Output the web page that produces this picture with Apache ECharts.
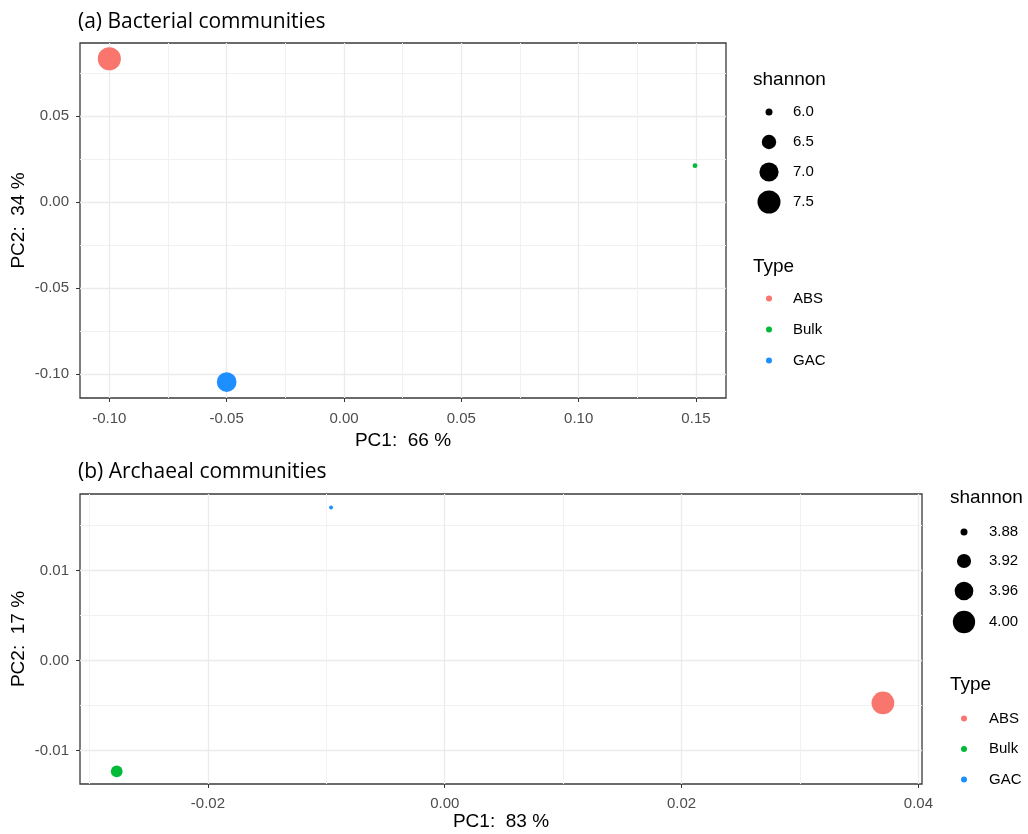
<!DOCTYPE html>
<html>
<head>
<meta charset="utf-8">
<title>PCoA - bacterial and archaeal communities</title>
<script src="https://cdn.jsdelivr.net/npm/echarts@6.0.0/dist/echarts.min.js"></script>
<style>
  html, body { margin: 0; padding: 0; background: #fff; }
  #chart { width: 1028px; height: 834px; }
</style>
</head>
<body>
<div id="chart"></div>
<script>
const types = ['ABS', 'Bulk', 'GAC'];
const typeColors = ['#F8766D', '#00BA38', '#1E8FFF'];

// (a) bacterial communities
const bactPC1 = [-0.100, 0.1496, -0.050];
const bactPC2 = [0.0835, 0.0213, -0.1047];
const bactShannon = [7.52, 5.92, 7.06];
const bactXTicks = [-0.10, -0.05, 0.00, 0.05, 0.10, 0.15];
const bactYTicks = [-0.10, -0.05, 0.00, 0.05];
const bactXMinor = [-0.075, -0.025, 0.025, 0.075, 0.125];
const bactYMinor = [-0.075, -0.025, 0.025, 0.075];
const bactXRange = [-0.1125, 0.1628];
const bactYRange = [-0.114, 0.0927];
const bactShannonBreaks = [6.0, 6.5, 7.0, 7.5];
const bactShannonLabels = ['6.0', '6.5', '7.0', '7.5'];

// (b) archaeal communities
const archPC1 = [0.0370, -0.0277, -0.0096];
const archPC2 = [-0.0047, -0.0123, 0.0170];
const archShannon = [4.005, 3.904, 3.871];
const archXTicks = [-0.02, 0.00, 0.02, 0.04];
const archYTicks = [-0.01, 0.00, 0.01];
const archXMinor = [-0.03, -0.01, 0.01, 0.03];
const archYMinor = [-0.005, 0.005, 0.015];
const archXRange = [-0.0308, 0.0403];
const archYRange = [-0.0137, 0.0185];
const archShannonBreaks = [3.88, 3.92, 3.96, 4.00];
const archShannonLabels = ['3.88', '3.92', '3.96', '4.00'];

const FONT = '"Liberation Sans", Arial, sans-serif';
const TITLE_FONT = '"Open Sans", sans-serif';

// point diameter from shannon (area ~ linear, like ggplot scale_size)
function bactSize(s) { return Math.sqrt(Math.max(49 + 320 * (s - 6.0), 9)); }
function archSize(s) { return Math.sqrt(Math.max(49 + 3740 * (s - 3.88), 9)); }

function fmt(v) { return v.toFixed(2); }

// minor grid lines only
function minorAxis(dim, gridIndex, range, minor) {
  return {
    type: 'value', gridIndex: gridIndex,
    position: dim === 'x' ? 'bottom' : 'left',
    min: range[0], max: range[1],
    axisLine: { show: false, onZero: false },
    axisTick: { show: false, customValues: minor },
    axisLabel: { show: false },
    splitLine: { show: true, lineStyle: { color: '#F1F1F1', width: 1 } }
  };
}

// major grid, ticks, labels and title
function majorAxis(dim, gridIndex, range, ticks, name, nameGap, labelMargin) {
  return {
    type: 'value', gridIndex: gridIndex,
    position: dim === 'x' ? 'bottom' : 'left',
    min: range[0], max: range[1],
    name: name, nameLocation: 'middle', nameGap: nameGap, nameMoveOverlap: false,
    nameTextStyle: { fontFamily: FONT, fontSize: 19, color: '#000' },
    axisLine: { show: false, onZero: false },
    axisTick: { show: true, length: 4, customValues: ticks, lineStyle: { color: '#333', width: 1 } },
    axisLabel: {
      customValues: ticks, formatter: fmt,
      fontFamily: FONT, fontSize: 15, color: '#4D4D4D',
      margin: labelMargin
    },
    splitLine: { show: true, lineStyle: { color: '#EBEBEB', width: 1.3 } }
  };
}

function panelSeries(pc1, pc2, shannon, xIdx, yIdx, sizeFn) {
  return types.map((t, i) => ({
    name: t,
    type: 'scatter',
    xAxisIndex: xIdx, yAxisIndex: yIdx,
    data: [[pc1[i], pc2[i], shannon[i]]],
    symbol: 'circle',
    symbolSize: v => sizeFn(v[2]),
    itemStyle: { color: typeColors[i], opacity: 1 },
    emphasis: { disabled: true }
  }));
}

function sizeLegend(x0, yTitle, ys, breaks, labels, sizeFn, symX, labelX) {
  let els = [{
    type: 'text', x: x0, y: yTitle,
    style: { text: 'shannon', font: '19px ' + FONT, fill: '#000', verticalAlign: 'middle' }
  }];
  breaks.forEach((b, i) => {
    els.push({
      type: 'circle',
      shape: { cx: symX, cy: ys[i], r: sizeFn(b) / 2 },
      style: { fill: '#000' }
    });
    els.push({
      type: 'text', x: labelX, y: ys[i],
      style: { text: labels[i], font: '15px ' + FONT, fill: '#000', verticalAlign: 'middle' }
    });
  });
  return els;
}

let myChart = echarts.init(document.getElementById('chart'), null, { renderer: 'canvas' });

let option = {
  animation: false,
  backgroundColor: '#fff',
  grid: [
    { left: 80, top: 43, width: 646, height: 355, outerBoundsMode: 'none', containLabel: false,
      show: true, borderColor: '#3a3a3a', borderWidth: 1.3, backgroundColor: 'transparent' },
    { left: 80, top: 494, width: 842, height: 290, outerBoundsMode: 'none', containLabel: false,
      show: true, borderColor: '#3a3a3a', borderWidth: 1.3, backgroundColor: 'transparent' }
  ],
  xAxis: [
    minorAxis('x', 0, bactXRange, bactXMinor),
    majorAxis('x', 0, bactXRange, bactXTicks, 'PC1:  66 %', 33, 13),
    minorAxis('x', 1, archXRange, archXMinor),
    majorAxis('x', 1, archXRange, archXTicks, 'PC1:  83 %', 28, 12)
  ],
  yAxis: [
    minorAxis('y', 0, bactYRange, bactYMinor),
    majorAxis('y', 0, bactYRange, bactYTicks, 'PC2:  34 %', 52, 11),
    minorAxis('y', 1, archYRange, archYMinor),
    majorAxis('y', 1, archYRange, archYTicks, 'PC2:  17 %', 52, 11)
  ],
  legend: [
    {
      data: types, orient: 'vertical', left: 766, top: 291, padding: 0,
      itemWidth: 38, itemHeight: 6, itemGap: 16, icon: 'circle', selectedMode: false,
      textStyle: { fontFamily: FONT, fontSize: 15, lineHeight: 15, color: '#000' }
    },
    {
      data: types, orient: 'vertical', left: 961, top: 711, padding: 0,
      itemWidth: 40, itemHeight: 6, itemGap: 15.5, icon: 'circle', selectedMode: false,
      textStyle: { fontFamily: FONT, fontSize: 15, lineHeight: 15, color: '#000' }
    }
  ],
  graphic: [
    { type: 'text', x: 78, y: 22, style: { text: '(a) Bacterial communities', font: '21px ' + TITLE_FONT, fill: '#000', verticalAlign: 'middle' } },
    { type: 'text', x: 78, y: 472, style: { text: '(b) Archaeal communities', font: '21px ' + TITLE_FONT, fill: '#000', verticalAlign: 'middle' } },
    { type: 'text', x: 753, y: 267, style: { text: 'Type', font: '19px ' + FONT, fill: '#000', verticalAlign: 'middle' } },
    { type: 'text', x: 950, y: 685, style: { text: 'Type', font: '19px ' + FONT, fill: '#000', verticalAlign: 'middle' } }
  ]
    .concat(sizeLegend(753, 80, [112, 142, 172, 202], bactShannonBreaks, bactShannonLabels, bactSize, 769, 793))
    .concat(sizeLegend(950, 498, [532, 561, 591, 622], archShannonBreaks, archShannonLabels, archSize, 964, 989)),
  series: []
    .concat(panelSeries(bactPC1, bactPC2, bactShannon, 0, 0, bactSize))
    .concat(panelSeries(archPC1, archPC2, archShannon, 2, 2, archSize))
};

myChart.setOption(option);
</script>
</body>
</html>
